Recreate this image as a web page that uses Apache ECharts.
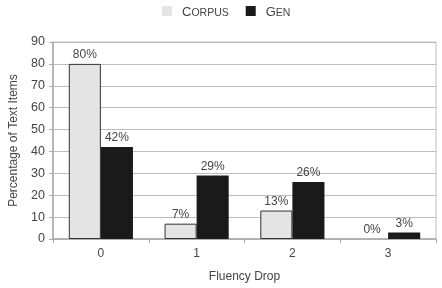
<!DOCTYPE html>
<html>
<head>
<meta charset="utf-8">
<script src="https://cdn.jsdelivr.net/npm/echarts@6/dist/echarts.min.js"></script>
<style>
  html, body { margin: 0; padding: 0; background: #fff; }
  #chart { width: 442px; height: 288px; }
</style>
</head>
<body>
<div id="chart"></div>
<script>
// categories and values
var categories = ['0', '1', '2', '3'];
var corpusValues = [80, 7, 13, 0];
var genValues = [42, 29, 26, 3];
var yTicks = { min: 0, max: 90, interval: 10 };

var chart = echarts.init(document.getElementById('chart'));

// small caps look for the legend names
var smallCaps = function (name) {
    var up = name.toUpperCase();
    return '{a|' + up.charAt(0) + '}{b|' + up.slice(1) + '}';
};

// a zero bar draws nothing in the original, not even its outline
var corpusData = corpusValues.map(function (v) {
    return v === 0 ? { value: v, itemStyle: { borderWidth: 0 } } : v;
});

var option = {
    animation: false,
    textStyle: { fontFamily: 'Liberation Sans, Arial, sans-serif', color: '#444' },
    legend: {
        top: 1,
        left: 157,
        itemWidth: 10,
        itemHeight: 10,
        itemGap: 17,
        formatter: smallCaps,
        textStyle: {
            color: '#444',
            rich: {
                a: { fontSize: 13, color: '#444', lineHeight: 16, verticalAlign: 'bottom', padding: [0, 0, 0, 5] },
                b: { fontSize: 10.5, color: '#444', lineHeight: 16, verticalAlign: 'bottom' }
            }
        },
        data: [
            { name: 'Corpus', icon: 'rect', itemStyle: { color: '#e4e4e4', borderWidth: 0 } },
            { name: 'Gen', icon: 'rect', itemStyle: { color: '#1a1a1a', borderWidth: 0 } }
        ]
    },
    grid: {
        left: 52,
        right: 6,
        top: 42,
        bottom: 46,
        show: true,
        borderColor: '#bdbdbd',
        borderWidth: 1
    },
    xAxis: {
        type: 'category',
        data: categories,
        name: 'Fluency Drop',
        nameLocation: 'middle',
        nameGap: 32,
        nameTextStyle: { fontSize: 12, color: '#444' },
        axisLine: { lineStyle: { color: '#aaa', width: 1.5 } },
        axisTick: { show: true, length: 4, lineStyle: { color: '#aaa' } },
        axisLabel: { fontSize: 12, color: '#444', margin: 9 }
    },
    yAxis: {
        type: 'value',
        min: yTicks.min,
        max: yTicks.max,
        interval: yTicks.interval,
        name: 'Percentage of Text Items',
        nameLocation: 'middle',
        nameGap: 33,
        nameTextStyle: { fontSize: 12, color: '#444' },
        axisLine: { show: true, lineStyle: { color: '#aaa', width: 1.5 } },
        axisTick: { show: true, length: 4, lineStyle: { color: '#aaa' } },
        axisLabel: { fontSize: 12.5, color: '#444', margin: 8 },
        splitLine: { lineStyle: { color: '#bdbdbd', width: 1 } }
    },
    series: [
        {
            name: 'Corpus',
            type: 'bar',
            data: corpusData,
            barGap: '0%',
            barCategoryGap: '33%',
            itemStyle: { color: '#e4e4e4', borderColor: '#333', borderWidth: 1 },
            label: { show: true, position: 'top', formatter: '{c}%', fontSize: 12, color: '#444', distance: 3 }
        },
        {
            name: 'Gen',
            type: 'bar',
            data: genValues,
            itemStyle: { color: '#1a1a1a' },
            label: { show: true, position: 'top', formatter: '{c}%', fontSize: 12, color: '#444', distance: 3 }
        }
    ]
};

chart.setOption(option);
</script>
</body>
</html>
